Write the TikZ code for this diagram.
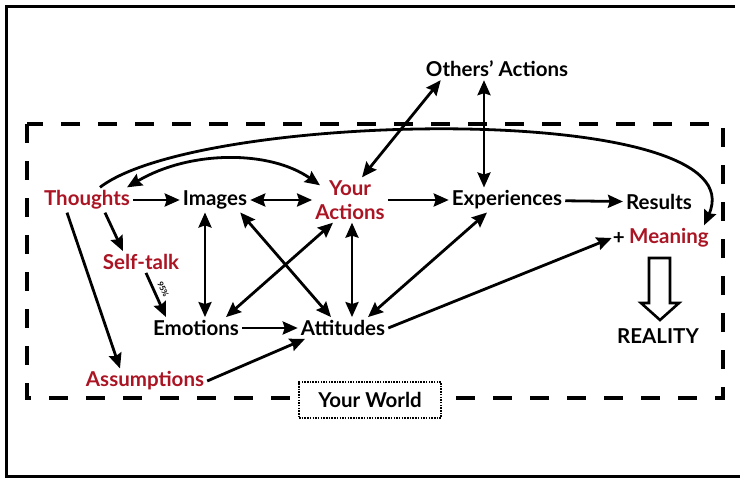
\documentclass[tikz,border=0pt]{standalone}
\usepackage{fontspec}
\setmainfont{Lato}
\usetikzlibrary{arrows.meta}
\definecolor{thinkred}{RGB}{170,20,35}
\tikzstyle{word} = [font=\fontsize{20.5}{24}\selectfont\bfseries, inner sep=3pt]
\tikzstyle{redword} = [word, text=thinkred]
\tikzstyle{arrow} = [line width=2.8pt,->,>={Stealth[length=15pt,width=13pt,inset=2pt]}]
\tikzstyle{twoway} = [arrow,<->]

\begin{document}
\begin{tikzpicture}[x=1pt, y=1pt, node distance=128pt]
    \useasboundingbox (0,0) rectangle (740,-479);
    % outer frame and the dashed world
    \draw[line width=3pt] (735,-6) -- (6,-6) -- (6,-476) -- (740,-476);
    \draw[line width=3.2pt, dash pattern=on 19pt off 18pt] (27,-124) rectangle (723,-398);

    \node (thoughts) [redword] at (87,-200) {Thoughts};
    \node (images) [word, right of=thoughts] {Images};
    \node (youract) [redword, align=center, right of=images, xshift=7pt] {Your\\Actions};
    \node (exper) [word, right of=youract, xshift=29pt] {Experiences};
    \node (results) [word, right of=exper, xshift=24pt, yshift=-2pt] {Results};
    \node (others) [word, above of=exper, xshift=-10pt, yshift=3pt] {Others' Actions};
    \node (meaning) [redword, below of=results, xshift=10pt, yshift=92pt] {Meaning};
    \node (plus) [word, anchor=east, inner sep=1pt] at (meaning.west) {+};
    \node (reality) [word, below of=meaning, xshift=-11pt, yshift=30pt] {REALITY};
    \node (selftalk) [redword, below of=thoughts, xshift=54pt, yshift=66pt] {Self-talk};
    \node (emotions) [word, below of=images, xshift=-19pt] {Emotions};
    \node (attitudes) [word, below of=youract, xshift=-7pt] {Attitudes};
    \node (assump) [redword, below of=selftalk, xshift=4pt, yshift=9pt] {Assumptions};
    \node (world) [word, draw, line width=2.6pt, dash pattern=on 1.5pt off 1.2pt, fill=white, minimum width=142pt, minimum height=36pt] at (370,-400) {Your World};

    % hollow arrow down to reality
    \draw[line width=2.6pt, line join=miter] (649,-258) -- (670,-258) -- (670,-303) -- (679,-303) -- (660,-320) -- (641,-303) -- (649,-303) -- cycle;

    \draw [arrow] (thoughts) -- (images);
    \draw [twoway] (images) -- (youract);
    \draw [arrow] (youract) -- (exper);
    \draw [arrow] (exper) -- (results);
    \draw [twoway] ([xshift=12pt]youract.north) -- ([xshift=18pt]others.south west);
    \draw [twoway] ([xshift=-13pt]others.south) -- ([xshift=-13pt]others.south |- exper.north);
    \draw [arrow] ([xshift=18pt]thoughts.south) -- ([xshift=-18pt]selftalk.north);
    \draw [arrow] ([xshift=-20pt]thoughts.south) -- ([xshift=-25pt]assump.north);
    \draw [arrow] ([xshift=5pt]selftalk.south) -- ([xshift=-30pt]emotions.north)
        node [pos=0.45, sloped, above=4pt, inner sep=0.5pt, font=\fontsize{8}{9}\selectfont\bfseries] {95\%};
    \draw [twoway] ([xshift=-10pt]images.south) -- ([xshift=-10pt]images.south |- emotions.north);
    \draw [twoway] ([xshift=-10pt]images.south east) -- ([xshift=-12pt]attitudes.north);
    \draw [twoway] ([xshift=30pt]emotions.north) -- ([xshift=-17pt]youract.south);
    \draw [twoway] ([xshift=2pt]youract.south) -- ([xshift=9pt]attitudes.north);
    \draw [arrow] (emotions) -- (attitudes);
    \draw [arrow] (assump.east) -- ([xshift=-38pt]attitudes.south);
    \draw [twoway] ([xshift=25pt]attitudes.north) -- ([xshift=-20pt]exper.south);
    \draw [arrow] (attitudes.east) -- (plus.west);
    % the two curves over the top
    \draw [arrow] ([xshift=13pt]thoughts.north) .. controls (200,-110) and (760,-100) .. ([xshift=-8pt]meaning.north east);
    \draw [twoway] ([xshift=40pt]thoughts.north) .. controls (190,-150) and (270,-150) .. ([xshift=-30pt,yshift=-8pt]youract.north);
\end{tikzpicture}
\end{document}
